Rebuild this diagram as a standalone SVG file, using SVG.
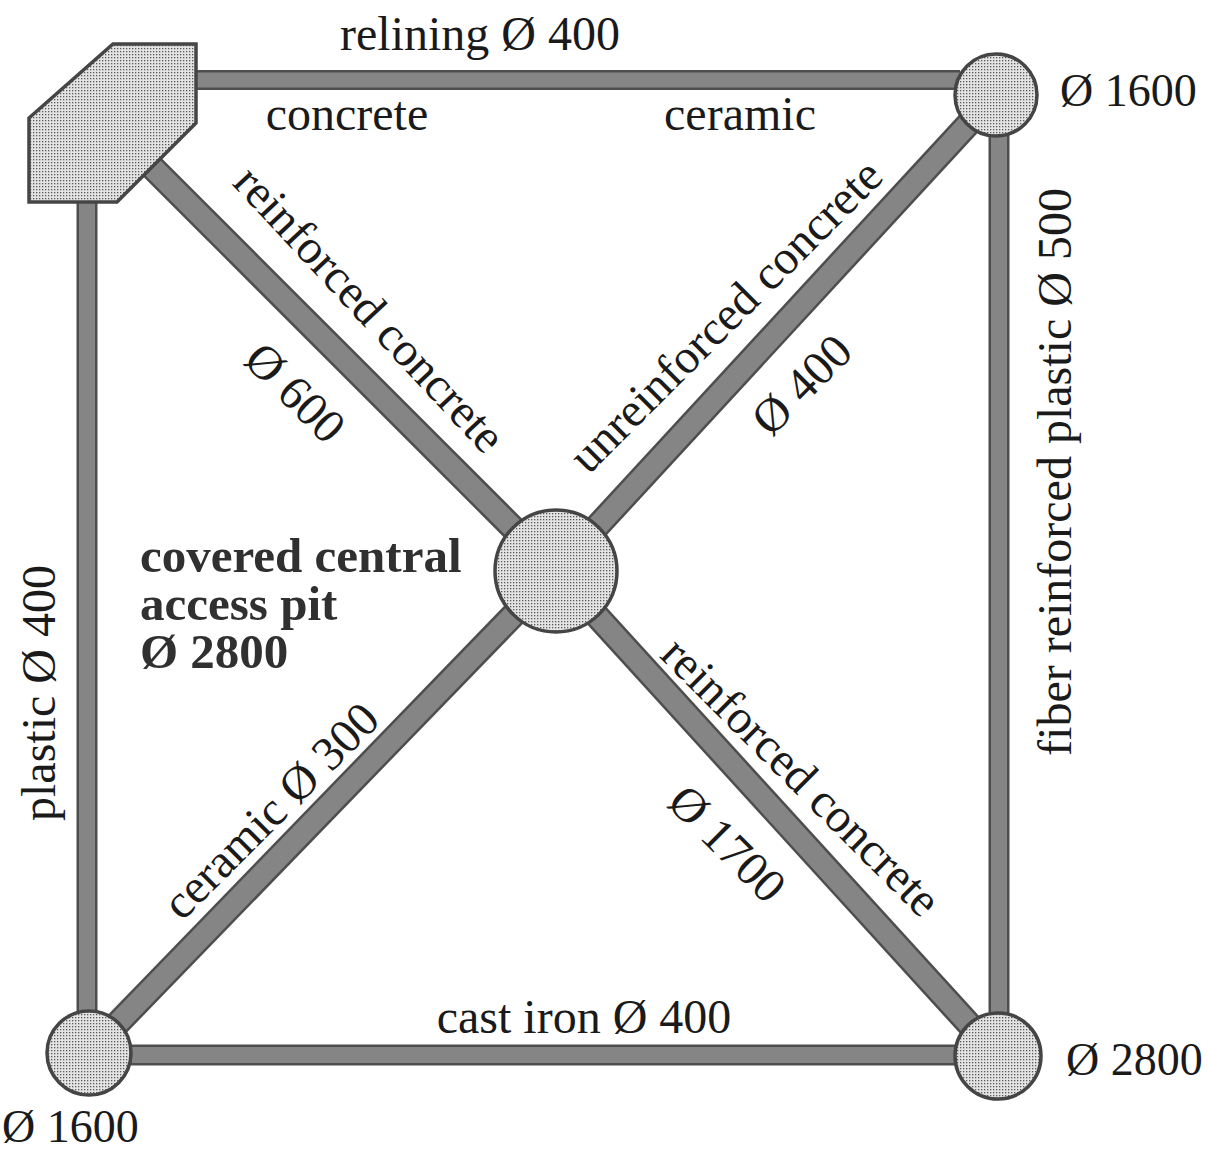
<svg xmlns="http://www.w3.org/2000/svg" width="1208" height="1153" viewBox="0 0 1208 1153">
<defs>
<pattern id="dots" width="3" height="3" patternUnits="userSpaceOnUse">
<rect width="3" height="3" fill="#e4e4e4"/>
<rect width="1.3" height="1.3" fill="#5a5a5a"/>
</pattern>
<style>
.pipeO{stroke:#4e4e4e;fill:none;stroke-linecap:butt}
.pipeI{stroke:#858585;fill:none;stroke-linecap:butt}
.node{fill:url(#dots);stroke:#454545;stroke-width:3.5}
.t{font-family:"Liberation Serif","Times New Roman",serif;font-size:48px;fill:#1a1a1a}
.c{font-size:46px}
.b{font-family:"Liberation Serif","Times New Roman",serif;font-size:49px;font-weight:bold;fill:#303030}
</style>
</defs>
<rect width="1208" height="1153" fill="#ffffff"/>
<g id="connectors">
<line class="pipeO" x1="190" y1="80" x2="960" y2="80" stroke-width="20"/>
<line class="pipeI" x1="190" y1="80" x2="960" y2="80" stroke-width="15"/>
<line class="pipeO" x1="87" y1="195" x2="87" y2="1020" stroke-width="21"/>
<line class="pipeI" x1="87" y1="195" x2="87" y2="1020" stroke-width="16"/>
<line class="pipeO" x1="999" y1="120" x2="999" y2="1020" stroke-width="21"/>
<line class="pipeI" x1="999" y1="120" x2="999" y2="1020" stroke-width="16"/>
<line class="pipeO" x1="120" y1="1055" x2="965" y2="1055" stroke-width="21"/>
<line class="pipeI" x1="120" y1="1055" x2="965" y2="1055" stroke-width="16"/>
<line class="pipeO" x1="140" y1="155" x2="556" y2="571" stroke-width="26"/>
<line class="pipeI" x1="140" y1="155" x2="556" y2="571" stroke-width="21"/>
<line class="pipeO" x1="556" y1="571" x2="998" y2="1056" stroke-width="26"/>
<line class="pipeI" x1="556" y1="571" x2="998" y2="1056" stroke-width="21"/>
<line class="pipeO" x1="995" y1="95" x2="556" y2="571" stroke-width="26"/>
<line class="pipeI" x1="995" y1="95" x2="556" y2="571" stroke-width="21"/>
<line class="pipeO" x1="556" y1="571" x2="89" y2="1053" stroke-width="26"/>
<line class="pipeI" x1="556" y1="571" x2="89" y2="1053" stroke-width="21"/>
</g>
<g id="node-inlet">
<polygon class="node" points="113,44 196,44 196,123 117,202 29,202 29,118"/>
</g>
<g id="node-topright">
<circle class="node" cx="996" cy="95" r="41"/>
<text class="t c" x="1060" y="106">Ø 1600</text>
</g>
<g id="node-bottomleft">
<circle class="node" cx="89" cy="1053" r="42"/>
<text class="t c" x="2" y="1142">Ø 1600</text>
</g>
<g id="node-bottomright">
<circle class="node" cx="998" cy="1056" r="43"/>
<text class="t c" x="1066" y="1075">Ø 2800</text>
</g>
<g id="node-center">
<circle class="node" cx="556" cy="571" r="61"/>
<text class="b" x="140" y="572">covered central</text>
<text class="b" x="140" y="620">access pit</text>
<text class="b" x="140" y="668">Ø 2800</text>
</g>
<g id="labels">
<text class="t" x="480" y="50" text-anchor="middle">relining Ø 400</text>
<text class="t" x="347" y="130" text-anchor="middle">concrete</text>
<text class="t" x="740" y="130" text-anchor="middle">ceramic</text>
<text class="t" x="584" y="1033" text-anchor="middle">cast iron Ø 400</text>
<text class="t" text-anchor="middle" transform="translate(55,693) rotate(-90)">plastic Ø 400</text>
<text class="t" text-anchor="middle" font-size="49.5" transform="translate(1071,472) rotate(-90)">fiber reinforced plastic Ø 500</text>
<text class="t" text-anchor="middle" transform="translate(358,320) rotate(47)">reinforced concrete</text>
<text class="t" text-anchor="middle" transform="translate(284,404) rotate(45)">Ø 600</text>
<text class="t" text-anchor="middle" transform="translate(737,327) rotate(-45)">unreinforced concrete</text>
<text class="t" text-anchor="middle" transform="translate(813,396) rotate(-45)">Ø 400</text>
<text class="t" text-anchor="middle" transform="translate(282,822) rotate(-45)">ceramic Ø 300</text>
<text class="t" text-anchor="middle" transform="translate(790,788) rotate(45)">reinforced concrete</text>
<text class="t" text-anchor="middle" transform="translate(716,855) rotate(45)">Ø 1700</text>
</g>
</svg>
